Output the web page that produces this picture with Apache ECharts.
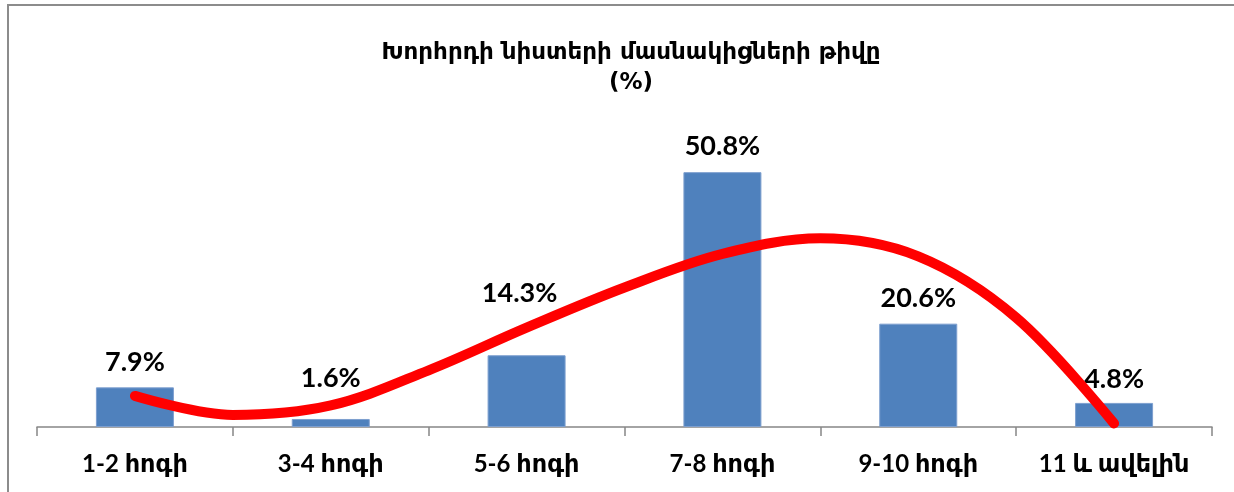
<!DOCTYPE html>
<html>
<head>
<meta charset="utf-8">
<script src="https://cdn.jsdelivr.net/npm/echarts@6/dist/echarts.min.js"></script>
<style>
html,body{margin:0;padding:0;background:#fff;}
#c{width:1234px;height:492px;}
</style>
</head>
<body>
<div id="c"></div>
<script>
// ---- data ----
var categories = ['1-2 հոգի', '3-4 հոգի', '5-6 հոգի', '7-8 հոգի', '9-10 հոգի', '11 և ավելին'];
var shares = [7.9, 1.6, 14.3, 50.8, 20.6, 4.8];
// trend line: position along category scale (1 = first category) and value
var trendX = [1.0, 1.5, 2.0, 2.5, 3.0, 3.5, 4.0, 4.5, 5.0, 5.5, 6.0];
var trendY = [6.2, 2.4, 4.3, 11.3, 19.8, 27.8, 34.5, 37.6, 34.0, 21.8, 0.7];
var titleLines = ['Խորհրդի նիստերի մասնակիցների թիվը', '(%)'];

// ---- label placement (style only) ----
var labelDist = [12, 27, 48, 12, 12, 10];
var labelDx = [0, 0, -7, 0, 0, 0];

var barData = shares.map(function (v, i) {
  return {
    value: v,
    label: { distance: labelDist[i], offset: [labelDx[i], 0] }
  };
});
var trendData = trendX.map(function (x, i) { return [x, trendY[i]]; });

var chart = echarts.init(document.getElementById('c'));
chart.setOption({
  animation: false,
  backgroundColor: '#ffffff',
  title: {
    text: titleLines.join('\n'),
    left: 626,
    textAlign: 'center',
    top: 33,
    textStyle: {
      fontFamily: '"DejaVu Sans", sans-serif',
      fontWeight: 'bold',
      fontSize: 23,
      lineHeight: 30,
      color: '#000'
    }
  },
  graphic: [{
    type: 'rect',
    shape: { x: 8, y: 5, width: 1400, height: 600 },
    style: { fill: 'none', stroke: '#8c8c8c', lineWidth: 2 },
    silent: true
  }],
  grid: { left: 37, right: 22, top: 126, bottom: 65 },
  xAxis: [{
    type: 'category',
    data: categories,
    boundaryGap: true,
    axisLine: { lineStyle: { color: '#868686', width: 1.5 } },
    axisTick: { show: true, length: 9, lineStyle: { color: '#868686', width: 1.5 } },
    axisLabel: {
      margin: 25,
      color: '#000',
      fontWeight: 'bold',
      fontSize: 24,
      fontFamily: 'Lato, "DejaVu Sans", sans-serif',
      interval: 0
    }
  }, {
    type: 'value',
    min: 0.5,
    max: 6.5,
    show: false
  }],
  yAxis: {
    type: 'value',
    min: 0,
    max: 60,
    show: false
  },
  series: [{
    type: 'bar',
    data: barData,
    barWidth: 78,
    itemStyle: { color: '#4F81BD', borderColor: '#7d9fcf', borderWidth: 1 },
    label: {
      show: true,
      position: 'top',
      formatter: function (p) { return p.value.toFixed(1) + '%'; },
      color: '#000',
      fontWeight: 'bold',
      fontSize: 27,
      fontFamily: 'Lato, "DejaVu Sans", sans-serif'
    },
    z: 2
  }, {
    type: 'line',
    xAxisIndex: 1,
    data: trendData,
    smooth: 0.35,
    showSymbol: false,
    symbol: 'none',
    lineStyle: { color: '#ff0000', width: 10, cap: 'round', join: 'round' },
    z: 3
  }]
});
</script>
</body>
</html>
